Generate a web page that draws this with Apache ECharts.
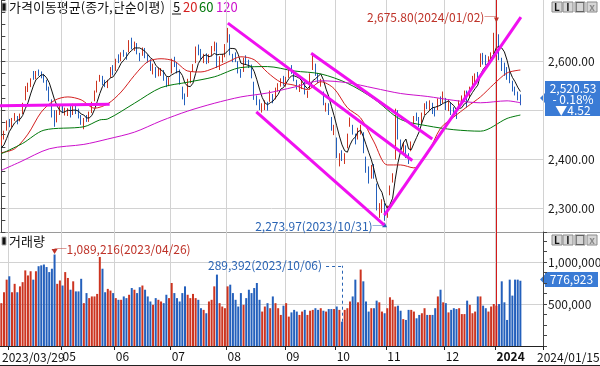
<!DOCTYPE html>
<html><head><meta charset="utf-8">
<script src="https://cdn.jsdelivr.net/npm/echarts@6/dist/echarts.min.js"></script>
<style>html,body{margin:0;padding:0;background:#fff}#c{width:600px;height:366px}</style>
</head><body><div id="c"></div>
<script>
// ---------- DATA ----------
const monthDays = [
  ['2023/03', [29,30,31]],
  ['2023/04', [3,4,5,6,7,10,11,12,13,14,17,18,19,20,21,24,25,26,27,28]],
  ['2023/05', [2,3,4,8,9,10,11,12,15,16,17,18,19,22,23,24,25,26,30,31]],
  ['2023/06', [1,2,5,7,8,9,12,13,14,15,16,19,20,21,22,23,26,27,28,29,30]],
  ['2023/07', [3,4,5,6,7,10,11,12,13,14,17,18,19,20,21,24,25,26,27,28,31]],
  ['2023/08', [1,2,3,4,7,8,9,10,11,14,16,17,18,21,22,23,24,25,28,29,30,31]],
  ['2023/09', [1,4,5,6,7,8,11,12,13,14,15,18,19,20,21,22,25,26,27]],
  ['2023/10', [4,5,6,10,11,12,13,16,17,18,19,20,23,24,25,26,27,30,31]],
  ['2023/11', [1,2,3,6,7,8,9,10,13,14,15,16,17,20,21,22,23,24,27,28,29,30]],
  ['2023/12', [1,4,5,6,7,8,11,12,13,14,15,18,19,20,21,22,26,27,28]],
  ['2024/01', [2,3,4,5,8,9,10,11,12,15]]
];
const monthTickLabels = ['2023/03/29','','05','06','07','08','09','10','11','12','2024'];
const futureDays = ['2024/01/16','2024/01/17','2024/01/18','2024/01/19','2024/01/22','2024/01/23','2024/01/24','2024/01/25'];

const opens = [2431,2447,2462,2478,2470,2485,2484,2480,2496,2522,
2546,2553,2574,2570,2580,2575,2571,2560,2545,2520,
2494,2482,2498,2505,2497,2492,2505,2493,2506,2498,
2485,2471,2484,2482,2497,2522,2540,2562,2565,2557,
2552,2570,2583,2585,2610,2606,2620,2612,2622,2645,
2630,2634,2610,2614,2622,2609,2600,2580,2585,2575,
2578,2578,2565,2553,2577,2603,2595,2580,2545,2530,
2530,2565,2585,2600,2630,2620,2605,2610,2602,2615,
2630,2630,2590,2600,2612,2640,2650,2610,2612,2595,
2578,2582,2605,2598,2590,2555,2524,2515,2500,2510,
2512,2520,2530,2525,2545,2555,2565,2558,2570,2586,
2578,2557,2545,2550,2555,2530,2545,2585,2590,2570,
2553,2535,2505,2510,2482,2460,2440,2395,2410,2398,
2425,2470,2465,2445,2445,2455,2452,2400,2380,2365,
2385,2345,2290,2300,2305,2285,2330,2362,2400,2495,
2432,2420,2420,2410,2420,2470,2490,2480,2475,2495,
2515,2505,2510,2500,2505,2526,2520,2520,2505,2512,
2500,2495,2505,2520,2528,2535,2530,2555,2560,2575,
2590,2612,2610,2598,2608,2618,2660,2650,2600,2590,
2580,2575,2555,2545,2535,2528];
const closes = [2443.85,2453.16,2476.86,2472.34,2479.49,2490.41,2474.94,2490.46,2512.08,2547.86,
2550.64,2561.59,2571.49,2575.91,2575.78,2572.69,2562.80,2544.40,2523.50,2489.02,
2484.83,2495.81,2501.53,2500.94,2500.65,2501.15,2489.18,2510.06,2496.51,2491.00,
2475.42,2479.35,2480.24,2494.66,2515.35,2537.79,2557.08,2567.37,2564.23,2554.69,
2558.81,2585.52,2577.12,2601.36,2601.20,2615.41,2615.69,2610.39,2641.16,2629.35,
2637.95,2619.08,2608.54,2625.79,2609.50,2604.91,2582.63,2592.14,2570.10,2582.20,
2581.10,2564.19,2550.29,2564.28,2602.47,2593.31,2579.00,2556.29,2526.71,2520.70,
2562.49,2574.72,2591.04,2628.30,2619.00,2608.95,2608.24,2600.03,2609.76,2628.30,
2636.46,2592.36,2603.81,2608.32,2632.58,2667.07,2616.47,2605.39,2602.80,2580.71,
2573.98,2605.12,2601.56,2591.26,2570.87,2525.64,2519.85,2504.50,2508.80,2516.64,
2505.50,2537.68,2519.14,2543.41,2552.16,2561.22,2556.27,2563.71,2584.55,2582.18,
2563.34,2548.26,2547.68,2553.15,2536.58,2534.70,2572.89,2601.28,2574.72,2559.21,
2559.74,2514.97,2508.13,2495.76,2462.97,2465.07,2405.69,2403.60,2408.73,2402.58,
2450.08,2479.82,2456.15,2436.24,2460.17,2462.60,2415.80,2375.00,2357.02,2383.51,
2363.17,2299.08,2302.81,2310.55,2277.99,2301.56,2343.12,2368.34,2502.37,2443.96,
2421.62,2427.08,2409.66,2403.76,2433.25,2486.67,2488.18,2469.85,2491.20,2510.42,
2511.70,2514.96,2496.63,2495.66,2521.76,2519.81,2535.29,2505.01,2514.95,2495.38,
2495.66,2492.07,2517.85,2525.36,2535.27,2510.66,2544.18,2563.56,2566.86,2568.55,
2614.30,2600.02,2599.51,2602.59,2613.50,2655.28,2669.81,2607.31,2587.02,2578.08,
2567.82,2561.24,2541.98,2540.27,2525.05,2520.53];
const lows = [2428,2440,2458,2465,2464,2478,2471,2477,2492,2520,
2537,2547,2562,2563,2570,2565,2556,2540,2518,2485,
2466,2475,2490,2494,2489,2488,2485,2490,2492,2483,
2470,2461,2476,2476,2494,2518,2536,2558,2551,2547,
2545,2566,2571,2580,2596,2600,2609,2603,2618,2624,
2621,2614,2600,2611,2606,2597,2580,2573,2566,2569,
2570,2560,2547,2549,2575,2588,2575,2552,2522,2510,
2527,2555,2578,2596,2612,2603,2596,2594,2596,2610,
2620,2586,2582,2597,2608,2638,2612,2598,2598,2575,
2566,2578,2594,2586,2565,2521,2510,2500,2495,2500,
2499,2517,2514,2522,2538,2548,2550,2548,2566,2574,
2559,2542,2537,2543,2532,2525,2542,2582,2570,2555,
2548,2510,2497,2490,2458,2449,2402,2385,2396,2390,
2422,2466,2450,2430,2440,2450,2412,2372,2350,2360,
2360,2295,2280,2290,2273.97,2280,2326,2352,2399,2440,
2418,2410,2402,2390,2416,2468,2478,2465,2472,2490,
2502,2500,2492,2487,2500,2510,2514,2500,2498,2490,
2488,2482,2500,2515,2520,2505,2525,2550,2553,2560,
2588,2593,2592,2590,2600,2614,2650,2602,2580,2570,
2562,2555,2538,2530,2520,2510];
const highs = [2447,2458,2479,2482,2484,2494,2488,2493,2515,2549,
2556,2565,2580,2580,2583,2579,2574,2562,2548,2522,
2500,2500,2510,2512,2505,2504,2508,2513,2509,2503,
2490,2484,2490,2497,2517,2540,2560,2572,2570,2562,
2562,2588,2592,2605,2614,2618,2623,2618,2643,2648,
2640,2637,2617,2628,2627,2614,2604,2595,2588,2587,
2586,2582,2568,2567,2605,2609,2598,2583,2548,2534,
2564,2578,2594,2630,2634,2625,2615,2616,2614,2631,
2640,2638,2610,2615,2635,2668,2655,2615,2618,2600,
2584,2607,2612,2603,2593,2558,2530,2522,2514,2520,
2517,2540,2533,2546,2555,2565,2570,2568,2587,2592,
2582,2562,2553,2560,2558,2540,2575,2615,2595,2576,
2564,2538,2515,2514,2486,2470,2444,2412,2418,2412,
2452,2485,2470,2452,2464,2470,2455,2405,2385,2388,
2390,2350,2310,2318,2310,2305,2346,2371,2503,2500,
2440,2435,2428,2412,2436,2488,2495,2486,2495,2514,
2518,2520,2515,2505,2524,2528,2538,2525,2520,2515,
2506,2500,2520,2530,2540,2540,2548,2570,2575,2578,
2616,2617,2613,2610,2618,2658,2675.80,2655,2607,2597,
2588,2580,2560,2548,2538,2532];
const volumes = [510000,640000,790000,830000,640000,740000,640000,710000,760000,900000,
840000,890000,790000,890000,950000,960000,970000,940000,880000,920000,
1089216,740000,780000,720000,880000,810000,670000,770000,650000,650000,
800000,510000,630000,570000,590000,590000,620000,1060000,920000,640000,
680000,660000,630000,570000,550000,550000,590000,570000,610000,690000,
670000,630000,700000,720000,670000,590000,530000,490000,570000,550000,
530000,510000,610000,570000,750000,630000,570000,530000,630000,710000,
610000,570000,620000,570000,550000,450000,430000,390000,530000,550000,
710000,850000,510000,470000,450000,710000,730000,630000,550000,470000,
630000,490000,570000,670000,630000,690000,750000,550000,410000,470000,
510000,450000,590000,510000,450000,370000,480000,510000,350000,400000,
430000,410000,370000,410000,430000,370000,420000,430000,450000,430000,
450000,420000,410000,440000,440000,440000,470000,430000,289392,430000,
450000,530000,590000,790000,520000,910000,770000,530000,410000,450000,
450000,540000,520000,410000,390000,450000,580000,550000,470000,480000,
420000,320000,310000,430000,430000,410000,330000,370000,390000,450000,
370000,370000,370000,450000,590000,670000,520000,510000,400000,430000,
450000,440000,450000,380000,380000,540000,490000,390000,410000,590000,
590000,480000,450000,410000,470000,500000,480000,500000,770000,520000,
310000,790000,600000,790000,790000,776923];
const ma5 = [2423,2429,2442,2456,2465,2474,2479,2481,2489,2503,
2515,2533,2549,2562,2567,2572,2572,2566,2556,2539,
2521,2508,2499,2495,2497,2500,2499,2500,2500,2498,
2492,2490,2484,2484,2489,2501,2517,2534,2548,2556,
2560,2566,2568,2576,2585,2596,2602,2609,2617,2622,
2627,2627,2627,2624,2620,2614,2607,2603,2592,2586,
2582,2578,2569,2568,2572,2575,2578,2579,2571,2555,
2549,2548,2555,2575,2595,2604,2611,2613,2609,2611,
2616,2613,2614,2614,2615,2621,2626,2626,2625,2614,
2596,2594,2593,2591,2589,2579,2562,2543,2526,2515,
2511,2515,2518,2525,2532,2543,2546,2555,2564,2570,
2570,2568,2565,2559,2550,2544,2549,2560,2564,2569,
2574,2562,2543,2528,2508,2489,2468,2447,2429,2417,
2414,2429,2440,2445,2456,2459,2446,2430,2414,2399,
2379,2356,2341,2332,2311,2299,2307,2320,2359,2392,
2416,2433,2441,2421,2419,2432,2444,2456,2474,2489,
2494,2500,2505,2506,2508,2510,2514,2516,2519,2514,
2509,2501,2503,2505,2513,2516,2527,2536,2544,2551,
2572,2583,2590,2597,2606,2614,2628,2630,2627,2619,
2602,2580,2567,2558,2547,2538];
const ma20 = [[0,2413],[5,2421],[10,2451],[15,2496],[20,2520],[25,2527],[30,2521],[35,2504],[40,2513],[45,2537],
[50,2571],[55,2599],[60,2605],[65,2600],[70,2580],[75,2578],[80,2586],[85,2598],[90,2609],[95,2603],
[100,2577],[105,2557],[110,2551],[115,2542],[120,2558],[125,2544],[130,2505],[135,2484],[140,2435],[145,2388],
[150,2388],[155,2382],[160,2410],[165,2463],[170,2486],[175,2507],[180,2527],[185,2553],[190,2576],[195,2582]];
const ma60 = [[0,2411],[8,2432],[16,2459],[31,2466],[37,2480],[40,2482],[50,2514],[60,2546],[70,2557],[80,2568],
[90,2587],[100,2589],[110,2580],[120,2574],[130,2555],[140,2523],[150,2481],[160,2468],[170,2460],[180,2457],[190,2483],[195,2490]];
const ma120 = [[0,2377],[7,2394],[18,2421],[31,2430],[40,2441],[50,2455],[60,2478],[70,2498],[80,2514],[90,2527],
[100,2535],[110,2547],[120,2560],[130,2556],[140,2545],[150,2534],[160,2528],[170,2520],[180,2515],[190,2519],[195,2515]];
const trendLines = [
  [[-0.5,2508.7],[40.7,2512.0]],
  [[85.1,2677.7],[154.4,2397.1]],
  [[116.4,2616.3],[161.9,2441.2]],
  [[95.8,2496.4],[143.9,2265.1]],
  [[143.9,2285.5],[195.2,2690.2]]
];
const priceTickLabels = [2300,2400,2600];
const volTickLabels = [500000,1000000];

// ---------- BUILD ----------
const dates = []; const monthStart = {};
monthDays.forEach(([ym, days], m) => {
  days.forEach((d, k) => {
    if (k === 0) monthStart[dates.length] = monthTickLabels[m];
    dates.push(ym + '/' + String(d).padStart(2, '0'));
  });
});
const cats = dates.concat(futureDays);
const UP = '#cc3420', DOWN = '#2460bc', GRID = '#d2d2d2';
const FONT = '"Noto Sans CJK KR", "Noto Sans", sans-serif';
const kData = opens.map((o, i) => [o, closes[i], lows[i], highs[i]]);
const volData = volumes.map((v, i) => ({value: v, itemStyle: {color: closes[i] >= opens[i] ? UP : DOWN}}));
const isMonth = i => monthStart[i] !== undefined && i > 0;
const priceGridColors = [];
for (let k = 0; k < 20; k++) priceGridColors.push([2,6,10,14].includes(k) ? GRID : 'rgba(0,0,0,0)');
const fmtNum = (v, d) => v.toLocaleString('en-US', {minimumFractionDigits: d, maximumFractionDigits: d});

const chart = echarts.init(document.getElementById('c'));
const axisText = {color: '#1a1a1a', fontSize: 12, fontFamily: FONT};

const series = [
  {type: 'candlestick', xAxisIndex: 0, yAxisIndex: 0, data: kData, barWidth: 1,
   itemStyle: {color: UP, color0: DOWN, borderColor: UP, borderColor0: DOWN, borderWidth: 1},
   markLine: {silent: true, symbol: ['none','none'], label: {show: false},
     lineStyle: {color: '#d41a1a', width: 1, type: 'solid'}, data: [{xAxis: '2024/01/02'}]},
   markPoint: {silent: true, data: [
     {coord: ['2024/01/02', 2675.8], symbol: 'triangle', symbolRotate: 180, symbolSize: [5,5], symbolOffset: [0,-4],
      itemStyle: {color: '#be3228'},
      label: {show: true, formatter: '2,675.80(2024/01/02)─', position: [2.5, 0], align: 'right', verticalAlign: 'middle',
        color: '#be3228', fontSize: 12, fontFamily: FONT}},
     {coord: ['2023/10/31', 2273.97], symbol: 'triangle', symbolSize: [5,5], symbolOffset: [0,4],
      itemStyle: {color: '#2a64b4'},
      label: {show: true, formatter: '2,273.97(2023/10/31)─', position: [2.5, 4.5], align: 'right', verticalAlign: 'middle',
        color: '#2a64b4', fontSize: 12, fontFamily: FONT}}
   ]}},
  {type: 'line', name: 'MA5', xAxisIndex: 0, yAxisIndex: 0, data: ma5, symbol: 'none', lineStyle: {color: '#111', width: 1}},
  {type: 'line', name: 'MA20', xAxisIndex: 0, yAxisIndex: 0, data: ma20, smooth: 0.3, symbol: 'none', lineStyle: {color: '#d42020', width: 1}},
  {type: 'line', name: 'MA60', xAxisIndex: 0, yAxisIndex: 0, data: ma60, smooth: 0.3, symbol: 'none', lineStyle: {color: '#00780a', width: 1}},
  {type: 'line', name: 'MA120', xAxisIndex: 0, yAxisIndex: 0, data: ma120, smooth: 0.3, symbol: 'none', lineStyle: {color: '#cc10cc', width: 1}}
];
trendLines.forEach(seg => series.push({type: 'line', xAxisIndex: 2, yAxisIndex: 0, data: seg, symbol: 'none',
  lineStyle: {color: '#f010f0', width: 3}, z: 5}));
series.push({type: 'bar', xAxisIndex: 1, yAxisIndex: 1, data: volData, barWidth: 2,
  markLine: {silent: true, symbol: ['none','none'], data: [
    {xAxis: '2024/01/02', label: {show: false}, lineStyle: {color: '#d41a1a', width: 1, type: 'solid'}},
    [{coord: ['2023/10/06', 289392]}, {coord: ['2023/10/06', 955000]}],
    [{coord: ['2023/09/22', 955000], label: {show: true, position: 'start', distance: 4, formatter: '289,392(2023/10/06)',
       color: '#2a64b4', fontSize: 12, fontFamily: FONT}}, {coord: ['2023/10/06', 955000]}]
  ], label: {show: false}, lineStyle: {color: '#2a64b4', width: 1, type: [3,3]}},
  markPoint: {silent: true, data: [
    {coord: ['2023/04/26', 1089216], symbol: 'triangle', symbolRotate: 180, symbolSize: [6,5], symbolOffset: [0,-3],
     itemStyle: {color: '#be3228'},
     label: {show: true, formatter: '─1,089,216(2023/04/26)', position: [3, 0], align: 'left', verticalAlign: 'middle',
       color: '#be3228', fontSize: 12, fontFamily: FONT}}
  ]}});

function btnGroup(y) {
  const labels = ['L','I','□','x'], xs = [552,563,575,587], out = [];
  labels.forEach((t, k) => {
    out.push({type: 'rect', shape: {x: xs[k], y: y, width: 10, height: 10}, style: {fill: '#d6d6d6', stroke: '#8a8a8a', lineWidth: 1}});
    out.push({type: 'text', x: xs[k] + 5, y: y + 5, style: {text: t, fill: k === 3 ? '#8a8a8a' : '#111', font: 'bold 10px ' + FONT, align: 'center', verticalAlign: 'middle'}});
  });
  return out;
}

const graphic = [
  {type: 'line', shape: {x1: 0, y1: 232.5, x2: 600, y2: 232.5}, style: {stroke: '#9a9a9a', lineWidth: 1}},
  {type: 'line', shape: {x1: 0, y1: 365.5, x2: 600, y2: 365.5}, style: {stroke: '#222', lineWidth: 1}},
  {type: 'rect', shape: {x: 2, y: 3, width: 4, height: 8}, style: {fill: '#111', stroke: '#aaa', lineWidth: 1}},
  {type: 'text', x: 9, y: 7.5, style: {text: '가격이동평균(종가,단순이평)', fill: '#111', font: '13px ' + FONT, verticalAlign: 'middle'}},
  {type: 'text', x: 173, y: 7.5, style: {text: '5', fill: '#111', font: '13px ' + FONT, verticalAlign: 'middle'}},
  {type: 'line', shape: {x1: 172, y1: 14, x2: 181, y2: 14}, style: {stroke: '#111', lineWidth: 1}},
  {type: 'text', x: 183, y: 7.5, style: {text: '20', fill: '#d42020', font: '13px ' + FONT, verticalAlign: 'middle'}},
  {type: 'text', x: 199, y: 7.5, style: {text: '60', fill: '#00780a', font: '13px ' + FONT, verticalAlign: 'middle'}},
  {type: 'text', x: 216, y: 7.5, style: {text: '120', fill: '#cc10cc', font: '13px ' + FONT, verticalAlign: 'middle'}},
  {type: 'rect', shape: {x: 2, y: 237, width: 4, height: 8}, style: {fill: '#111', stroke: '#aaa', lineWidth: 1}},
  {type: 'text', x: 9, y: 241, style: {text: '거래량', fill: '#111', font: '13px ' + FONT, verticalAlign: 'middle'}},
  {type: 'text', x: 2, y: 357, style: {text: '2023/03/29', fill: '#111', font: '12px ' + FONT, verticalAlign: 'middle'}},
  {type: 'text', x: 537, y: 357, style: {text: '2024/01/15', fill: '#111', font: '12px ' + FONT, verticalAlign: 'middle'}},
  {type: 'polygon', shape: {points: [[540,98],[545,93],[545,81],[600,81],[600,116],[545,116],[545,103]]}, style: {fill: '#3a7bd5'}},
  {type: 'text', x: 573, y: 88, style: {text: '2,520.53', fill: '#fff', font: '12px ' + FONT, align: 'center', verticalAlign: 'middle'}},
  {type: 'text', x: 573, y: 99.5, style: {text: '- 0.18%', fill: '#fff', font: '12px ' + FONT, align: 'center', verticalAlign: 'middle'}},
  {type: 'text', x: 573, y: 110.5, style: {text: '▼4.52', fill: '#fff', font: '12px ' + FONT, align: 'center', verticalAlign: 'middle'}},
  {type: 'polygon', shape: {points: [[540,279.5],[545,274.5],[545,272],[598,272],[598,287],[545,287],[545,284.5]]}, style: {fill: '#3a7bd5'}},
  {type: 'text', x: 571.5, y: 279.5, style: {text: '776,923', fill: '#fff', font: '12px ' + FONT, align: 'center', verticalAlign: 'middle'}}
].concat(btnGroup(2), btnGroup(235));

chart.setOption({
  animation: false,
  backgroundColor: '#fff',
  textStyle: {fontFamily: FONT},
  grid: [
    {left: 0, top: 0, width: 543, height: 232.5, containLabel: false, outerBoundsMode: 'none'},
    {left: 0, top: 232, width: 543, height: 114, containLabel: false, outerBoundsMode: 'none'}
  ],
  xAxis: [
    {type: 'category', gridIndex: 0, data: cats, boundaryGap: true, axisLine: {show: false}, axisTick: {show: false}, axisLabel: {show: false},
     splitLine: {show: true, interval: (i) => isMonth(i), lineStyle: {color: GRID}}},
    {type: 'category', gridIndex: 1, data: cats, boundaryGap: true,
     axisLine: {show: true, lineStyle: {color: '#222'}},
     axisTick: {show: true, interval: (i) => isMonth(i), length: 4, lineStyle: {color: '#222'}},
     axisLabel: {show: true, hideOverlap: false, interval: (i) => isMonth(i) && monthStart[i] !== '',
       formatter: (v, i) => (monthStart[i] === '2024' ? '{b|2024}' : (monthStart[i] || '')),
       align: 'left', margin: 4, color: '#111', fontSize: 12, fontFamily: FONT,
       rich: {b: {fontWeight: 'bold', fontSize: 12, color: '#111', fontFamily: FONT}}},
     splitLine: {show: true, interval: (i) => isMonth(i), lineStyle: {color: GRID}}},
    {type: 'value', gridIndex: 0, min: -0.5, max: cats.length - 0.5, show: false}
  ],
  yAxis: [
    {type: 'value', gridIndex: 0, position: 'right', min: 2250, max: 2725, interval: 25,
     axisLine: {show: true, lineStyle: {color: '#444'}}, axisTick: {show: true, length: 4, lineStyle: {color: '#444'}},
     axisLabel: Object.assign({margin: 5, formatter: v => priceTickLabels.includes(v) ? fmtNum(v, 2) : ''}, axisText),
     splitLine: {show: true, lineStyle: {color: priceGridColors}}},
    {type: 'value', gridIndex: 1, position: 'right', min: 0, max: 1357143, interval: 125000,
     axisLine: {show: true, lineStyle: {color: '#444'}}, axisTick: {show: true, length: 4, lineStyle: {color: '#444'}},
     axisLabel: Object.assign({margin: 5, formatter: v => volTickLabels.includes(v) ? fmtNum(v, 0) : ''}, axisText),
     splitLine: {show: true, lineStyle: {color: [GRID, 'rgba(0,0,0,0)', 'rgba(0,0,0,0)', 'rgba(0,0,0,0)']}}}
  ],
  series: series,
  graphic: graphic
});
</script>
</body></html>
